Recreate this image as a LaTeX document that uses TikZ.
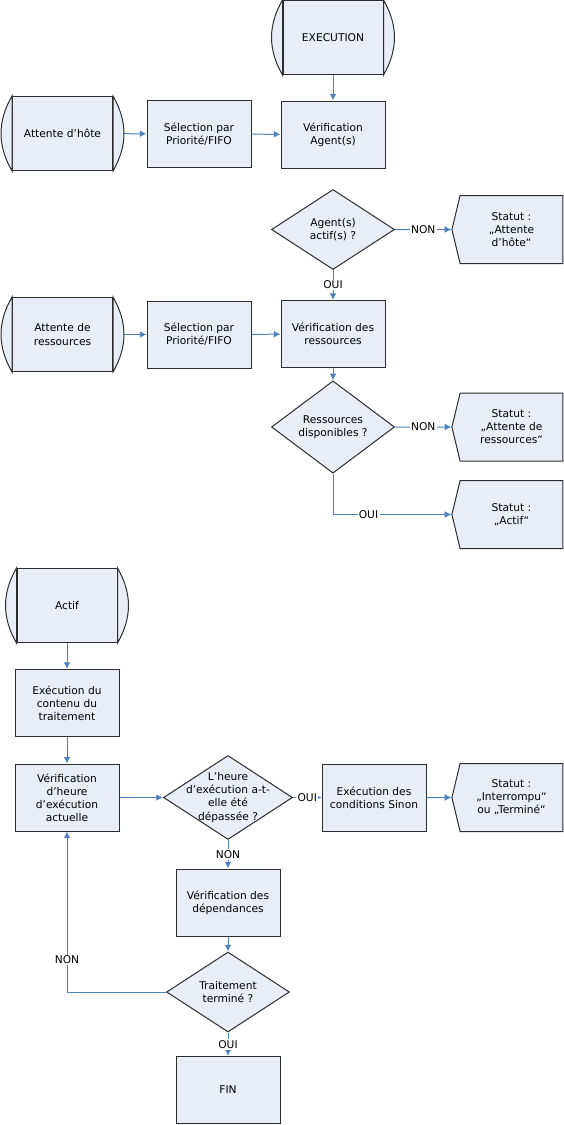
\documentclass[tikz,border=0pt]{standalone}
\usepackage{fontspec}
\setmainfont{DejaVu Sans}
\usetikzlibrary{shapes.geometric,shapes.symbols,arrows.meta}
\definecolor{boxfill}{RGB}{233,237,246}
\definecolor{flowblue}{RGB}{79,129,189}
\definecolor{edgegray}{RGB}{45,45,45}
% curved ends of the start/stop boxes
\newcommand{\capsides}[1]{%
	\filldraw[draw=edgegray,fill=boxfill,line width=.75pt] (#1.north west) to[bend right=30] (#1.south west) -- cycle;
	\filldraw[draw=edgegray,fill=boxfill,line width=.75pt] (#1.north east) to[bend left=30] (#1.south east) -- cycle;}
\begin{document}
\begin{tikzpicture}[x=.75pt, y=-.75pt, font=\fontsize{8}{9.8}\selectfont,
	procbox/.style={draw=edgegray, fill=boxfill, line width=.75pt, align=center, minimum width=78pt, minimum height=50.25pt, inner sep=2pt},
	term/.style={procbox, minimum width=75pt, minimum height=55.5pt},
	decision/.style={procbox, diamond, inner sep=0pt, minimum width=92.25pt, minimum height=60pt},
	statut/.style={procbox, signal, signal to=west, signal pointer angle=153, minimum width=83.25pt, minimum height=51pt},
	flow/.style={draw=flowblue, line width=.75pt, -{Latex[length=5pt,width=5pt]}},
	tag/.style={fill=white, inner sep=1pt}]
	\useasboundingbox (0,0) rectangle (564,1125);
	%upper part
	\node[term] (exec) at (333,37.5) {EXECUTION};
	\node[procbox] (verifagent) at (333,134.5) {Vérification\\Agent(s)};
	\node[term] (attentehote) at (62.5,133.5) {Attente d’hôte};
	\node[procbox] (selhote) at (199,134) {Sélection par\\Priorité/FIFO};
	\node[decision] (agent) at (333,229.5) {Agent(s)\\actif(s) ?};
	\node[statut] (stathote) at (511.5,229.5) {Statut :\\„Attente\\d’hôte“};
	\node[term] (attenteres) at (62.5,334.5) {Attente de\\ressources};
	\node[procbox] (selres) at (199,334.5) {Sélection par\\Priorité/FIFO};
	\node[procbox] (verifres) at (333,334) {Vérification des\\ressources};
	\node[decision] (ressources) at (333,427) {Ressources\\disponibles ?};
	\node[statut] (statres) at (511.5,427) {Statut :\\„Attente de\\ressources“};
	\node[statut] (statactif) at (511.5,514.5) {Statut :\\„Actif“};
	%lower part
	\node[term] (actif) at (67,605.5) {Actif};
	\node[procbox] (contenu) at (67,703) {Exécution du\\contenu du\\traitement};
	\node[procbox] (verifheure) at (67,797.5) {Vérification\\d’heure\\d’exécution\\actuelle};
	\node[decision, minimum width=96.75pt, minimum height=63pt,
		label={[name=heuretxt, align=center]center:{L’heure\\d’exécution a-t-\\elle été\\dépassée ?}}] (heure) at (228,797.5) {};
	\node[procbox] (sinon) at (374,797.5) {Exécution des\\conditions Sinon};
	\node[statut] (statfin) at (511.5,797.5) {Statut :\\„Interrompu“\\ou „Terminé“};
	\node[procbox] (dependances) at (228,902.5) {Vérification des\\dépendances};
	\node[decision] (traitement) at (228,992) {Traitement\\terminé ?};
	\node[procbox] (fin) at (228,1090) {FIN};
	%arrows
	\foreach \a/\b in {exec/verifagent, attentehote/selhote, selhote/verifagent,
		attenteres/selres, selres/verifres, verifres/ressources,
		actif/contenu, contenu/verifheure, verifheure/heure, sinon/statfin, dependances/traitement}
	\draw[flow] (\a) -- (\b);
	\draw[flow] (agent) -- node[tag] {NON} (stathote);
	\draw[flow] (agent) -- node[tag] {OUI} (verifres);
	\draw[flow] (ressources) -- node[tag] {NON} (statres);
	\draw[flow] (ressources) |- node[tag, pos=.65] {OUI} (statactif);
	\draw[flow] (heure) -- node[tag] {OUI} (sinon);
	\draw[flow] (heure) -- node[tag] {NON} (dependances);
	\draw[flow] (traitement) -| node[tag, pos=.6] {NON} (verifheure);
	\draw[flow] (traitement) -- node[tag] {OUI} (fin);
	%round ends
	\foreach \n in {exec, attentehote, attenteres, actif}
	\capsides{\n};
\end{tikzpicture}
\end{document}
